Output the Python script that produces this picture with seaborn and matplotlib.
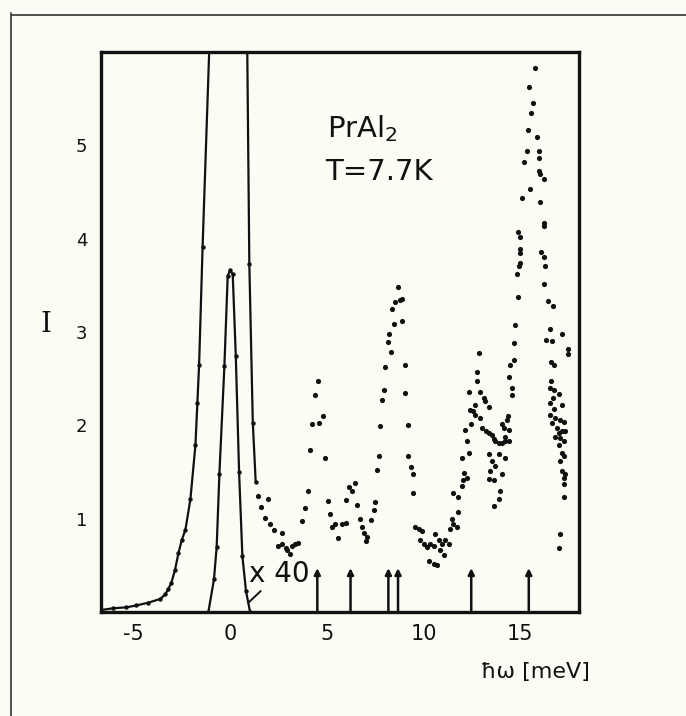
import numpy as np
import pandas as pd
import matplotlib
matplotlib.use("Agg")
import matplotlib.pyplot as plt
from matplotlib.lines import Line2D
import seaborn as sns

# ---------------- data ----------------
# broad (quasi)elastic curve, goes off scale
broad_E = [-6.74, -6.06, -5.39, -4.87, -4.25, -3.63, -3.37, -3.21, -3.06, -2.87, -2.69,
           -2.52, -2.33, -2.07, -1.81, -1.71, -1.62, -1.44, -1.05, -0.20, 0.86, 0.98, 1.16, 1.31]
broad_I = [0.02, 0.04, 0.05, 0.07, 0.10, 0.14, 0.19, 0.25, 0.31, 0.45, 0.63,
           0.77, 0.88, 1.21, 1.79, 2.24, 2.65, 3.91, 6.30, 9.00, 6.30, 3.73, 2.03, 1.39]

# narrow elastic peak (scaled, "x 40")
narrow_E = [-1.14, -0.85, -0.71, -0.57, -0.31, -0.14, -0.02, 0.12, 0.28, 0.45, 0.62, 0.81, 1.02]
narrow_I = [0.00, 0.35, 0.70, 1.48, 2.64, 3.60, 3.66, 3.62, 2.74, 1.50, 0.60, 0.22, 0.00]

# inelastic data points, by region
e_a = [1.45, 1.59, 1.80, 1.97, 2.06, 2.28, 2.45, 2.66, 2.69, 2.87, 2.92, 3.09, 3.18, 3.35, 3.52]
i_a = [1.24, 1.13, 1.01, 1.21, 0.94, 0.88, 0.71, 0.73, 0.85, 0.69, 0.66, 0.62, 0.71, 0.73, 0.74]

e_b = [3.69, 3.87, 4.01, 4.13, 4.25, 4.39, 4.52, 4.60, 4.77, 4.91]
i_b = [0.97, 1.11, 1.30, 1.74, 2.01, 2.33, 2.48, 2.03, 2.10, 1.65]

e_c = [5.03, 5.16, 5.28, 5.42, 5.56, 5.77, 5.98, 6.00, 6.15, 6.32, 6.46, 6.55, 6.72, 6.80,
       6.94, 7.01, 7.06, 7.29, 7.41, 7.50]
i_c = [1.19, 1.05, 0.91, 0.94, 0.79, 0.94, 0.95, 1.20, 1.34, 1.30, 1.38, 1.15, 1.00, 0.91,
       0.85, 0.76, 0.80, 0.99, 1.09, 1.18]

e_d = [7.58, 7.67, 7.76, 7.84, 7.93, 8.01, 8.15, 8.19, 8.33, 8.39, 8.45, 8.53, 8.70, 8.79,
       8.88, 8.91, 9.02, 9.05, 9.19, 9.22, 9.36, 9.43, 9.48]
i_d = [1.52, 1.67, 1.99, 2.27, 2.38, 2.63, 2.89, 2.98, 2.79, 3.25, 3.09, 3.32, 3.48, 3.34,
       3.35, 3.12, 2.65, 2.35, 1.67, 2.00, 1.55, 1.48, 1.28]

e_e = [9.57, 9.74, 9.83, 9.91, 10.00, 10.17, 10.26, 10.35, 10.52, 10.52, 10.61, 10.69,
       10.78, 10.86, 10.95, 11.04, 11.12, 11.30]
i_e = [0.91, 0.89, 0.77, 0.87, 0.73, 0.70, 0.55, 0.73, 0.71, 0.51, 0.84, 0.50,
       0.77, 0.66, 0.73, 0.61, 0.77, 0.73]

e_f = [11.38, 11.47, 11.55, 11.55, 11.73, 11.78, 11.81, 11.99, 11.99, 12.02, 12.12, 12.16,
       12.24, 12.24, 12.33, 12.36, 12.42, 12.47, 12.54, 12.68, 12.68, 12.76, 12.76, 12.85,
       12.94, 12.94, 13.02, 13.11, 13.19, 13.23, 13.37, 13.37, 13.37, 13.37, 13.46, 13.54,
       13.54, 13.63, 13.63, 13.63, 13.71, 13.71, 13.89, 13.89, 13.92, 13.97, 14.06, 14.06,
       14.06, 14.15, 14.23, 14.23, 14.23, 14.32, 14.37, 14.40, 14.40]
i_f = [0.89, 1.00, 0.94, 1.28, 0.91, 1.07, 1.23, 1.35, 1.65, 1.41, 1.49, 1.95,
       1.44, 1.83, 2.36, 1.70, 2.16, 2.01, 2.15, 2.11, 2.22, 2.48, 2.57, 2.77,
       2.36, 2.08, 1.97, 2.29, 2.26, 1.94, 2.20, 1.92, 1.69, 1.42, 1.51, 1.90,
       1.62, 1.85, 1.41, 1.14, 1.83, 1.56, 1.81, 1.69, 1.21, 1.30, 1.48, 1.81,
       2.01, 1.97, 1.83, 1.88, 1.65, 2.06, 2.10, 1.83, 1.95]

e_g = [14.44, 14.49, 14.58, 14.58, 14.66, 14.66, 14.75, 14.84, 14.89, 14.89, 14.92, 15.01,
       15.01, 15.01, 15.01, 15.09, 15.22, 15.35, 15.40, 15.44, 15.53, 15.56, 15.65, 15.79,
       15.87, 15.96, 15.96, 16.00, 16.05, 16.05, 16.10, 16.22, 16.22, 16.22, 16.22, 16.31, 16.22]
i_g = [2.52, 2.65, 2.33, 2.40, 2.70, 2.88, 3.08, 3.62, 3.37, 4.07, 3.71, 3.74,
       4.02, 3.89, 3.85, 4.44, 4.82, 4.94, 5.16, 5.62, 4.53, 5.35, 5.45, 5.83,
       5.09, 4.86, 4.72, 4.94, 4.69, 4.39, 3.86, 4.64, 4.17, 4.14, 3.80, 3.71, 3.51]

e_h = [16.42, 16.68, 16.56, 16.34, 16.66, 17.17, 17.48, 17.48, 16.61, 16.73, 16.61, 16.56,
       16.73, 16.99, 16.68, 16.56, 17.17, 16.73, 16.56, 16.82, 17.08, 17.25, 16.65, 16.91,
       17.17, 17.34, 17.00, 16.82, 17.08, 17.25, 17.00, 17.17, 17.25, 17.08, 17.17, 17.34,
       17.25, 17.25, 17.25, 17.08, 17.00]
i_h = [3.33, 3.28, 3.03, 2.91, 2.90, 2.98, 2.82, 2.76, 2.68, 2.65, 2.48, 2.40,
       2.38, 2.34, 2.29, 2.24, 2.22, 2.18, 2.11, 2.08, 2.06, 2.04, 2.02, 1.97,
       1.94, 1.94, 1.92, 1.88, 1.86, 1.83, 1.79, 1.70, 1.67, 1.62, 1.51, 1.48,
       1.44, 1.37, 1.23, 0.84, 0.69]

# calculated crystal-field transition energies (arrows)
arrow_E = [4.50, 6.22, 8.18, 8.68, 12.47, 15.45]
arrow_I = [0.47, 0.47, 0.47, 0.47, 0.47, 0.47]

x_ticks = [-5, 0, 5, 10, 15]
y_ticks = [1, 2, 3, 4, 5]

# ---------------- drawing ----------------
sns.set_theme(style="white")
plt.rcParams["font.family"] = ["DejaVu Sans"]
plt.rcParams["mathtext.fontset"] = "dejavusans"

bg = "#fcfbf4"
fig = plt.figure(figsize=(6.86, 7.16), dpi=100, facecolor=bg)
ax = fig.add_axes([101/686, 1-612/716, (579-101)/686, (612-52)/716])
ax.set_facecolor(bg)

ink = "#111111"

broad = pd.DataFrame({"E": broad_E, "I": broad_I})
narrow = pd.DataFrame({"E": narrow_E, "I": narrow_I})
sns.lineplot(data=broad, x="E", y="I", sort=False, estimator=None, ax=ax,
             color=ink, lw=1.6, marker="o", markersize=3.2, markeredgewidth=0)
sns.lineplot(data=narrow, x="E", y="I", sort=False, estimator=None, ax=ax,
             color=ink, lw=1.6, marker="o", markersize=3.2, markeredgewidth=0)

pts = pd.DataFrame({
    "E": e_a + e_b + e_c + e_d + e_e + e_f + e_g + e_h,
    "I": i_a + i_b + i_c + i_d + i_e + i_f + i_g + i_h,
})
sns.scatterplot(data=pts, x="E", y="I", ax=ax, color=ink, s=14, linewidth=0)

for xe, ie in zip(arrow_E, arrow_I):
    ax.annotate("", xy=(xe, ie), xytext=(xe, 0), annotation_clip=False,
                arrowprops=dict(arrowstyle="-|>", color=ink, lw=1.8,
                                mutation_scale=9, shrinkA=0, shrinkB=0))

# "x 40" label with leader line
ax.annotate("x 40", xy=(0.93, 0.10), xytext=(0.95, 0.41), fontsize=20,
            va="center", ha="left", color=ink,
            arrowprops=dict(arrowstyle="-", color=ink, lw=1.4,
                            shrinkA=0, shrinkB=0,
                            connectionstyle="arc3"),
            )

ax.text(5.0, 5.09, r"PrAl$_2$", fontsize=21, color=ink, ha="left", va="baseline")
ax.text(4.9, 4.63, "T=7.7K", fontsize=21, color=ink, ha="left", va="baseline")

ax.set_xlim(-6.7, 18.05)
ax.set_ylim(0, 6.0)
ax.set_xticks(x_ticks)
ax.set_xticklabels([str(t) for t in x_ticks])
ax.set_yticks(y_ticks)
ax.set_yticklabels([str(t) for t in y_ticks])
ax.set_xlabel("")
ax.set_ylabel("")
ax.tick_params(axis="x", direction="in", length=5, width=1.5, labelsize=15,
               pad=9, colors=ink)
ax.tick_params(axis="y", direction="in", length=5, width=1.5, labelsize=13,
               pad=10, colors=ink)
for sp in ax.spines.values():
    sp.set_linewidth(2.4)
    sp.set_color(ink)
    sp.set_visible(True)

fig.text(590/686, 1-672/716, "ħω [meV]", fontsize=16, ha="right", va="center", color=ink)
fig.text(46/686, 1-325/716, "I", fontsize=20, ha="center", va="center", color=ink,
         family=["DejaVu Serif"])

# outer frame (top and left edges of the scanned page)
fig.add_artist(Line2D([12/686, 1.0], [1-15/716, 1-15/716], transform=fig.transFigure,
                      color="#333333", lw=1.2))
fig.add_artist(Line2D([11/686, 11/686], [1-13/716, 0.0], transform=fig.transFigure,
                      color="#333333", lw=1.2))

fig.savefig("out.png", dpi=100, facecolor=bg)
